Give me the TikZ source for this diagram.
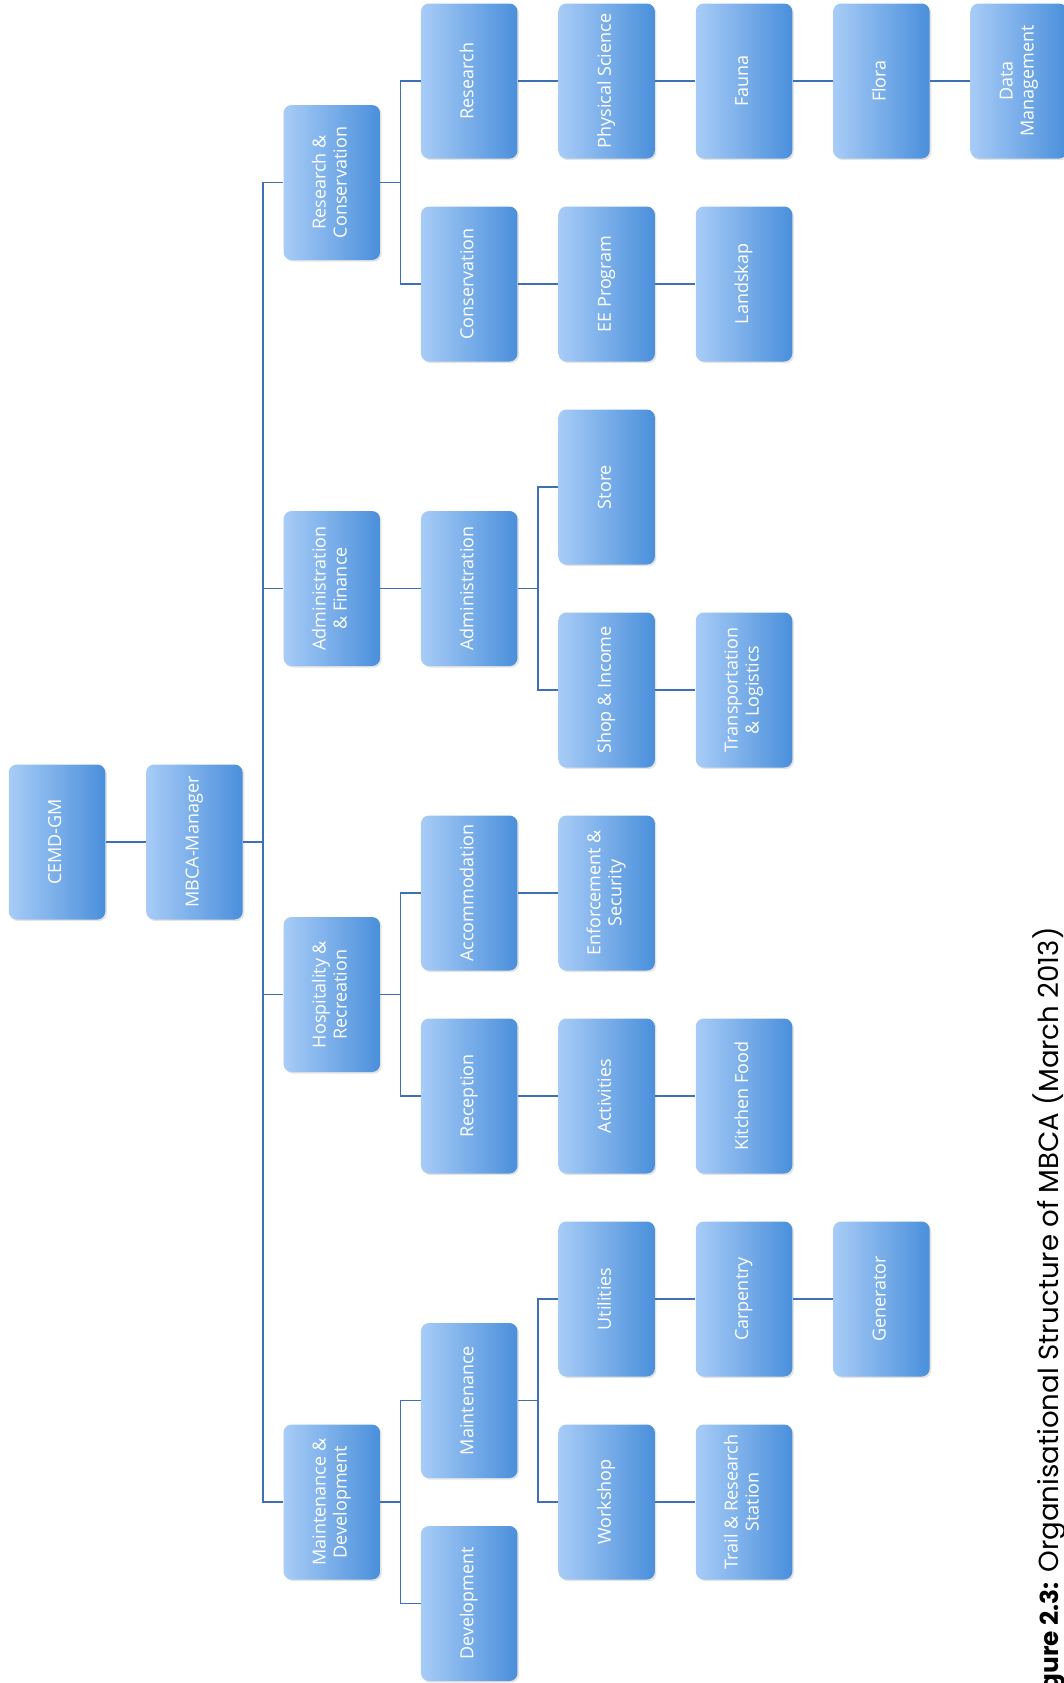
\documentclass[tikz,border=0pt]{standalone}
\usepackage{fontspec}
\setmainfont{Open Sans}
\newfontfamily\capfont{Poppins}
\usepackage{graphicx}
\usetikzlibrary{shadows}
\definecolor{boxlight}{RGB}{168,204,247}
\definecolor{boxdark}{RGB}{74,143,219}
\definecolor{linkblue}{RGB}{64,112,180}
\newcommand{\vt}[1]{\rotatebox{90}{\begin{tabular}{@{}c@{}}#1\end{tabular}}}

\begin{document}
\begin{tikzpicture}[x=0.5pt, y=-0.5pt,
    box/.style={rectangle, rounded corners=4pt, minimum width=48.25pt, minimum height=77.5pt, inner sep=0pt,
        left color=boxlight, right color=boxdark, text=white, font=\fontsize{9}{10.5}\selectfont,
        drop shadow={opacity=0.22, shadow xshift=0.8pt, shadow yshift=-0.8pt}},
    link/.style={draw=linkblue, line width=0.75pt}]
        \useasboundingbox (0, 0) rectangle (1064, 1683);
        \clip (0, 0) rectangle (1064, 1683);
        \draw (57, 842) node(cemd)[box]{\vt{CEMD-GM}};
        \draw (194.4, 842) node(mbca)[box]{\vt{MBCA-Manager}};
        \draw[link] (cemd) -- (mbca);
        \draw (331.8, 182.5) node(rc)[box]{\vt{Research \& \\ Conservation}};
        \draw (331.8, 588.5) node(af)[box]{\vt{Administration \\ \& Finance}};
        \draw (331.8, 994.5) node(hr)[box]{\vt{Hospitality \& \\ Recreation}};
        \draw (331.8, 1502) node(md)[box]{\vt{Maintenance \& \\ Development}};
        \draw[link] (mbca.east) -- ++(20, 0) |- (rc.west);
        \draw[link] (mbca.east) -- ++(20, 0) |- (af.west);
        \draw[link] (mbca.east) -- ++(20, 0) |- (hr.west);
        \draw[link] (mbca.east) -- ++(20, 0) |- (md.west);
        \draw (469.2, 81) node(res)[box]{\vt{Research}};
        \draw (469.2, 284) node(cons)[box]{\vt{Conservation}};
        \draw[link] (rc.east) -- ++(20, 0) |- (res.west);
        \draw[link] (rc.east) -- ++(20, 0) |- (cons.west);
        \draw (606.6, 81) node(phys)[box]{\vt{Physical Science}};
        \draw (744, 81) node(fauna)[box]{\vt{Fauna}};
        \draw (881.4, 81) node(flora)[box]{\vt{Flora}};
        \draw (1018.8, 81) node(data)[box]{\vt{Data \\ Management}};
        \draw[link] (res) -- (phys);
        \draw[link] (phys) -- (fauna);
        \draw[link] (fauna) -- (flora);
        \draw[link] (flora) -- (data);
        \draw (606.6, 284) node(ee)[box]{\vt{EE Program}};
        \draw (744, 284) node(land)[box]{\vt{Landskap}};
        \draw[link] (cons) -- (ee);
        \draw[link] (ee) -- (land);
        \draw (469.2, 588.5) node(adm)[box]{\vt{Administration}};
        \draw[link] (af) -- (adm);
        \draw (606.6, 487) node(store)[box]{\vt{Store}};
        \draw (606.6, 690) node(shop)[box]{\vt{Shop \& Income}};
        \draw[link] (adm.east) -- ++(20, 0) |- (store.west);
        \draw[link] (adm.east) -- ++(20, 0) |- (shop.west);
        \draw (744, 690) node(trans)[box]{\vt{Transportation \\ \& Logistics}};
        \draw[link] (shop) -- (trans);
        \draw (469.2, 893) node(acc)[box]{\vt{Accommodation}};
        \draw (469.2, 1096) node(rec)[box]{\vt{Reception}};
        \draw[link] (hr.east) -- ++(20, 0) |- (acc.west);
        \draw[link] (hr.east) -- ++(20, 0) |- (rec.west);
        \draw (606.6, 893) node(enf)[box]{\vt{Enforcement \& \\ Security}};
        \draw[link] (acc) -- (enf);
        \draw (606.6, 1096) node(act)[box]{\vt{Activities}};
        \draw (744, 1096) node(kitchen)[box]{\vt{Kitchen Food}};
        \draw[link] (rec) -- (act);
        \draw[link] (act) -- (kitchen);
        \draw (469.2, 1400.5) node(mnt)[box]{\vt{Maintenance}};
        \draw (469.2, 1603.5) node(dev)[box]{\vt{Development}};
        \draw[link] (md.east) -- ++(20, 0) |- (mnt.west);
        \draw[link] (md.east) -- ++(20, 0) |- (dev.west);
        \draw (606.6, 1299) node(util)[box]{\vt{Utilities}};
        \draw (606.6, 1502) node(work)[box]{\vt{Workshop}};
        \draw[link] (mnt.east) -- ++(20, 0) |- (util.west);
        \draw[link] (mnt.east) -- ++(20, 0) |- (work.west);
        \draw (744, 1299) node(carp)[box]{\vt{Carpentry}};
        \draw (881.4, 1299) node(gen)[box]{\vt{Generator}};
        \draw[link] (util) -- (carp);
        \draw[link] (carp) -- (gen);
        \draw (744, 1502) node(trail)[box]{\vt{Trail \& Research \\ Station}};
        \draw[link] (work) -- (trail);
        \draw (1058, 927) node(cap)[rotate=90, anchor=base east, inner sep=0pt, font=\capfont\fontsize{13.8}{16}\selectfont]{{\bfseries\fontsize{12.4}{16}\selectfont Figure 2.3:} Organisational Structure of MBCA (March 2013)};
    \end{tikzpicture}
\end{document}
